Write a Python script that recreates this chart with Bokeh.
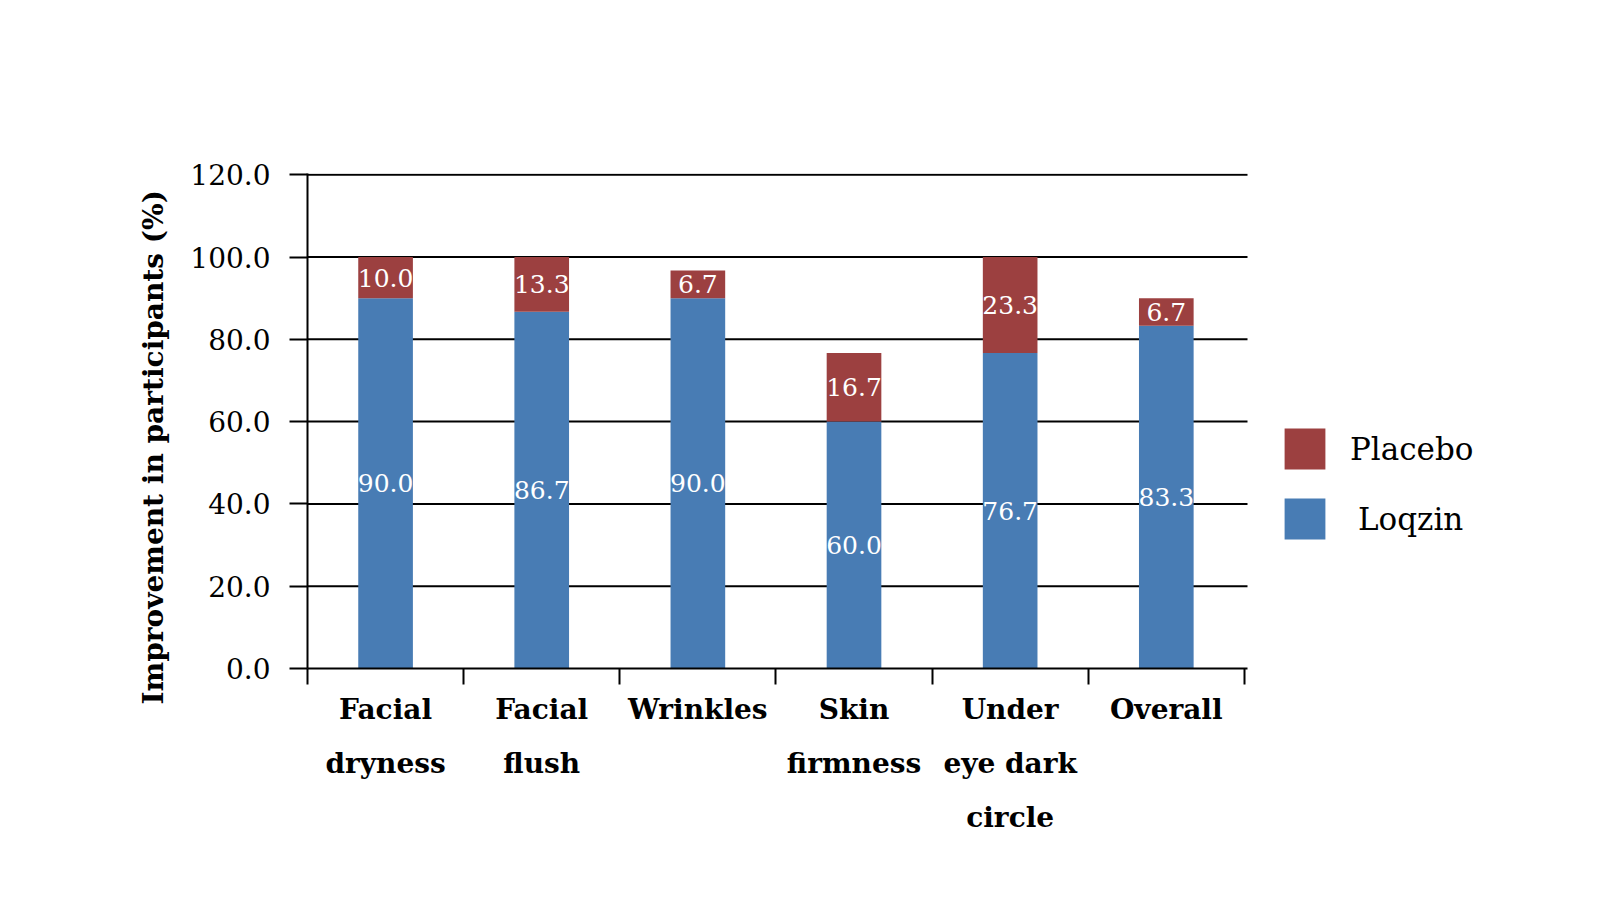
from bokeh.plotting import figure
from bokeh.models import (ColumnDataSource, Range1d, LinearAxis, FixedTicker, Legend,
                          LegendItem, NumeralTickFormatter, Title)
from bokeh.embed import file_html
from bokeh.resources import INLINE
from bokeh.core.properties import value

categories = ["Facial\ndryness", "Facial\nflush", "Wrinkles", "Skin\nfirmness",
              "Under\neye dark\ncircle", "Overall"]
loqzin = [90.0, 86.7, 90.0, 60.0, 76.7, 83.3]
placebo = [10.0, 13.3, 6.7, 16.7, 23.3, 6.7]
y_ticks = [0, 20, 40, 60, 80, 100, 120]
series = ["Loqzin", "Placebo"]
y_title = "Improvement in participants (%)"

BLUE = "#487CB4"
RED = "#9C4040"
FONT = "DejaVu Serif"

n = len(categories)
x_end = n + 0.02                     # right end of axis / grid lines
xs = [i + 0.5 for i in range(n)]
src = ColumnDataSource(dict(
    x=xs, Loqzin=loqzin, Placebo=placebo,
    ly=[v / 2 for v in loqzin],
    py=[l + q / 2 for l, q in zip(loqzin, placebo)],
    lt=[f"{v:.1f}" for v in loqzin],
    pt=[f"{v:.1f}" for v in placebo],
))

# frame extends to the right to host the legend
FRAME_LEFT, FRAME_TOP, FRAME_BOTTOM = 307, 173, 668
W, H = 1584, 884
frame_w_axis = 940.0                 # pixel width of the axis part
frame_right = W - 8
x_max = x_end * (frame_right - FRAME_LEFT) / frame_w_axis

p = figure(width=W, height=H,
           x_range=Range1d(0, x_max), y_range=Range1d(0, 120.3),
           output_backend="svg", toolbar_location=None,
           x_axis_type=None, y_axis_type=None,
           min_border_left=FRAME_LEFT, min_border_right=W - frame_right,
           min_border_top=FRAME_TOP, min_border_bottom=H - FRAME_BOTTOM)
p.outline_line_color = None
p.background_fill_color = "white"
p.border_fill_color = "white"

# horizontal grid lines (limited to the axis extent)
grid_src = ColumnDataSource(dict(y=y_ticks[1:], x0=[0] * (len(y_ticks) - 1),
                                 x1=[x_end] * (len(y_ticks) - 1)))
p.segment(x0="x0", x1="x1", y0="y", y1="y", source=grid_src,
          line_color="black", line_width=2, level="underlay")

# y axis (ticks and tick labels)
yaxis = LinearAxis(ticker=FixedTicker(ticks=y_ticks),
                   formatter=NumeralTickFormatter(format="0.0"))
yaxis.axis_line_color = "black"
yaxis.axis_line_width = 2
yaxis.major_tick_line_color = "black"
yaxis.major_tick_line_width = 2
yaxis.major_tick_out = 18
yaxis.major_tick_in = 0
yaxis.minor_tick_line_color = None
yaxis.major_label_standoff = 19
yaxis.major_label_text_font = FONT
yaxis.major_label_text_font_size = "28px"
yaxis.major_label_text_color = "black"
p.add_layout(yaxis, "left")

# y axis title, placed a little below centre as in the original
p.add_layout(Title(text=y_title, align="left", offset=-36, standoff=35,
                   text_font=FONT, text_font_style="bold",
                   text_font_size="28px", text_color="black"), "left")

# x axis: labels at category centres, ticks at category boundaries
xaxis = LinearAxis(ticker=FixedTicker(ticks=xs, minor_ticks=list(range(n + 1))),
                   bounds=(0, x_end))
xaxis.major_label_overrides = {x: c for x, c in zip(xs, categories)}
xaxis.axis_line_color = "black"
xaxis.axis_line_width = 2
xaxis.major_tick_out = 0
xaxis.major_tick_in = 0
xaxis.major_tick_line_color = None
xaxis.minor_tick_line_color = "black"
xaxis.minor_tick_line_width = 2
xaxis.minor_tick_out = 16
xaxis.minor_tick_in = 0
xaxis.major_label_standoff = 8
xaxis.major_label_text_font = FONT
xaxis.major_label_text_font_style = "bold"
xaxis.major_label_text_font_size = "28px"
xaxis.major_label_text_color = "black"
xaxis.major_label_text_line_height = 1.65
p.add_layout(xaxis, "below")

rs = p.vbar_stack(series, x="x", width=0.35, color=[BLUE, RED],
                  line_color=None, source=src)

p.text(x="x", y="ly", text="lt", source=src, text_color="white",
       text_align="center", text_baseline="middle",
       text_font=value(FONT), text_font_size="25px")
p.text(x="x", y="py", text="pt", source=src, text_color="white",
       text_align="center", text_baseline="middle",
       text_font=value(FONT), text_font_size="25px")

common = dict(glyph_width=51, glyph_height=51, padding=0, margin=0,
              border_line_color=None, background_fill_alpha=0,
              label_text_font=FONT, label_text_font_size="31px",
              label_text_color="black")
leg_placebo = Legend(items=[LegendItem(label="Placebo", renderers=[rs[1]])],
                     location=(972, 194), label_standoff=20, **common)
leg_loqzin = Legend(items=[LegendItem(label="Loqzin", renderers=[rs[0]])],
                    location=(972, 124), label_standoff=28, **common)
p.add_layout(leg_placebo, "center")
p.add_layout(leg_loqzin, "center")

open("out.html", "w").write(file_html(p, INLINE))
